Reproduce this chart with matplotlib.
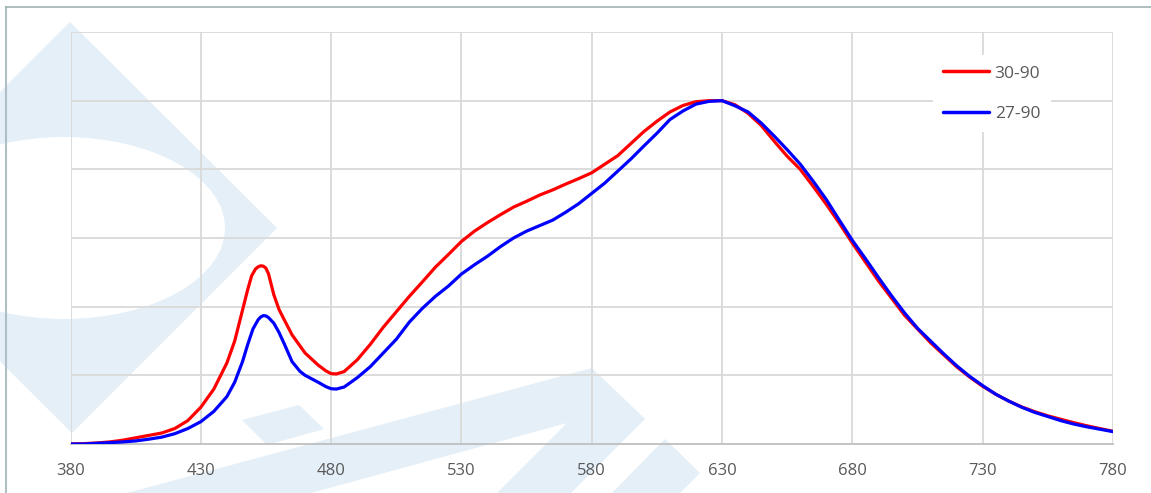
import matplotlib
matplotlib.use("Agg")
import matplotlib.pyplot as plt
from matplotlib.patches import Polygon, Ellipse
from matplotlib.lines import Line2D

# ---------------- data ----------------
wl_red = [380, 385, 390, 395, 400, 405, 410, 415, 420, 425, 430, 435, 440, 443, 446,
          448, 449.5, 451, 452, 453, 454, 455, 456, 457, 458, 460, 462, 465, 470, 475,
          478, 480, 482, 485, 490, 495, 500, 505,
          510, 515, 520, 525, 530, 535, 540, 545, 550, 555, 560, 565, 570, 575, 580,
          585, 590, 595, 600, 605, 610, 615, 620, 625, 630, 635, 640, 645, 650, 655,
          660, 665, 670, 675, 680, 685, 690, 695, 700, 705, 710, 715, 720, 725, 730,
          735, 740, 745, 750, 755, 760, 765, 770, 775, 780]
val_red = [0.000, 0.001, 0.003, 0.006, 0.011, 0.018, 0.025, 0.032, 0.045, 0.068,
           0.107, 0.160, 0.236, 0.300, 0.390, 0.450, 0.490, 0.510, 0.516, 0.519,
           0.518, 0.512, 0.495, 0.465, 0.435, 0.392, 0.362, 0.318, 0.265, 0.230,
           0.213, 0.205, 0.204, 0.211, 0.245, 0.290, 0.340, 0.385,
           0.430, 0.472, 0.515, 0.552, 0.590, 0.620, 0.645, 0.668, 0.690, 0.707,
           0.725, 0.740, 0.757, 0.773, 0.790, 0.815, 0.840, 0.875, 0.910, 0.940,
           0.967, 0.986, 0.997, 1.000, 1.000, 0.988, 0.963, 0.928, 0.882, 0.838,
           0.800, 0.750, 0.698, 0.643, 0.585, 0.530, 0.475, 0.425, 0.375, 0.335,
           0.295, 0.260, 0.225, 0.195, 0.168, 0.145, 0.125, 0.108, 0.094, 0.082,
           0.072, 0.062, 0.053, 0.045, 0.037]

wl_blue = [380, 385, 390, 395, 400, 405, 410, 415, 420, 425, 430, 435, 440, 443, 446,
           448, 450, 452, 453, 454, 455, 456, 458, 460, 462, 465, 468, 470, 475, 478,
           480, 482, 485, 490, 495, 500, 505, 510,
           515, 520, 525, 530, 535, 540, 545, 550, 555, 560, 565, 570, 575, 580, 585,
           590, 595, 600, 605, 610, 615, 620, 625, 630, 635, 640, 645, 650, 655, 660,
           665, 670, 675, 680, 685, 690, 695, 700, 705, 710, 715, 720, 725, 730, 735,
           740, 745, 750, 755, 760, 765, 770, 775, 780]
val_blue = [0.000, 0.000, 0.002, 0.004, 0.006, 0.009, 0.014, 0.020, 0.030, 0.045,
            0.065, 0.095, 0.138, 0.180, 0.240, 0.290, 0.335, 0.362, 0.370, 0.374,
            0.373, 0.368, 0.352, 0.325, 0.292, 0.240, 0.212, 0.200, 0.180, 0.167,
            0.161, 0.160, 0.166, 0.193, 0.225, 0.265, 0.305, 0.355,
            0.395, 0.430, 0.460, 0.495, 0.522, 0.547, 0.575, 0.600, 0.620, 0.636,
            0.652, 0.675, 0.700, 0.730, 0.760, 0.795, 0.830, 0.868, 0.905, 0.945,
            0.970, 0.990, 0.998, 1.000, 0.985, 0.967, 0.935, 0.897, 0.857, 0.815,
            0.765, 0.712, 0.652, 0.593, 0.540, 0.485, 0.432, 0.382, 0.337, 0.300,
            0.263, 0.228, 0.197, 0.170, 0.145, 0.125, 0.107, 0.092, 0.080, 0.068,
            0.058, 0.050, 0.043, 0.036]

series_names = ["30-90", "27-90"]
series_colors = ["#ff0000", "#0000ff"]
x_ticks = [380, 430, 480, 530, 580, 630, 680, 730, 780]

# ---------------- figure ----------------
W, H = 1151, 493
fig = plt.figure(figsize=(W / 100, H / 100), dpi=100)
fig.patch.set_facecolor("white")

def fp(pts):
    return [(x / W, 1 - y / H) for x, y in pts]

wm = "#e4eff7"
# watermark logo (decoration)
fig.add_artist(Polygon(fp([(70, 22), (277, 228), (72, 433), (-135, 227)]),
                       closed=True, transform=fig.transFigure, facecolor=wm,
                       edgecolor="none", zorder=0))
fig.add_artist(Ellipse((64 / W, 1 - 228 / H), 322 / W, 182 / H,
                       transform=fig.transFigure, facecolor="white",
                       edgecolor="none", zorder=0.1))
fig.add_artist(Polygon(fp([(242, 420), (299, 405), (324, 429), (267, 445)]),
                       closed=True, transform=fig.transFigure, facecolor=wm,
                       edgecolor="none", zorder=0))
fig.add_artist(Polygon(fp([(127, 493), (592, 368), (645, 419), (571, 493),
                           (497, 493), (567, 423), (311, 493)]),
                       closed=True, transform=fig.transFigure, facecolor=wm,
                       edgecolor="none", zorder=0))
fig.add_artist(Polygon(fp([(612, 493), (665, 439), (700, 473), (680, 493)]),
                       closed=True, transform=fig.transFigure, facecolor=wm,
                       edgecolor="none", zorder=0))

# outer border (partially visible)
fig.add_artist(Line2D([5.5 / W, 5.5 / W], [0, 1 - 7 / H], transform=fig.transFigure,
                      color="#aebfc6", lw=1.5, zorder=1))
fig.add_artist(Line2D([5.5 / W, 1], [1 - 7 / H, 1 - 7 / H], transform=fig.transFigure,
                      color="#9fb3b3", lw=1.2, zorder=1))

ax = fig.add_axes([70.5 / W, 1 - 444 / H, (1113 - 70.5) / W, (444 - 32) / H])
ax.set_facecolor("none")
ax.set_zorder(2)

ax.plot(wl_red, val_red, color=series_colors[0], lw=2.3, label=series_names[0],
        solid_joinstyle="round", solid_capstyle="round", zorder=3)
ax.plot(wl_blue, val_blue, color=series_colors[1], lw=2.3, label=series_names[1],
        solid_joinstyle="round", solid_capstyle="round", zorder=4)

ax.set_xlim(380, 780)
ax.set_ylim(0, 1.2)
ax.set_xticks(x_ticks)
ax.set_xticklabels([str(t) for t in x_ticks])
ax.set_yticks([0.2, 0.4, 0.6, 0.8, 1.0, 1.2])
ax.tick_params(axis="y", left=False, labelleft=False)
ax.tick_params(axis="x", length=0, pad=14, labelsize=12, labelcolor="#595959")
for lab in ax.get_xticklabels():
    lab.set_fontfamily("Open Sans")

ax.grid(True, color="#d9d9d9", lw=1.3)
ax.set_axisbelow(True)
for s in ["top", "right", "left"]:
    ax.spines[s].set_visible(False)
ax.spines["bottom"].set_color("#bfbfbf")
ax.spines["bottom"].set_linewidth(1.3)
ax.spines["bottom"].set_zorder(2.5)

leg = ax.legend(loc="upper left", bbox_to_anchor=(933 / W, 1 - 55 / H),
                bbox_transform=fig.transFigure, frameon=True, fancybox=False,
                facecolor="white", edgecolor="none", framealpha=1,
                handlelength=2.65, handletextpad=0.3, labelspacing=1.4,
                borderpad=0.6, borderaxespad=0,
                prop={"family": "Open Sans", "size": 12.5})
for t in leg.get_texts():
    t.set_color("#595959")
for l in leg.get_lines():
    l.set_linewidth(2.5)

fig.savefig("out.png", dpi=100)
